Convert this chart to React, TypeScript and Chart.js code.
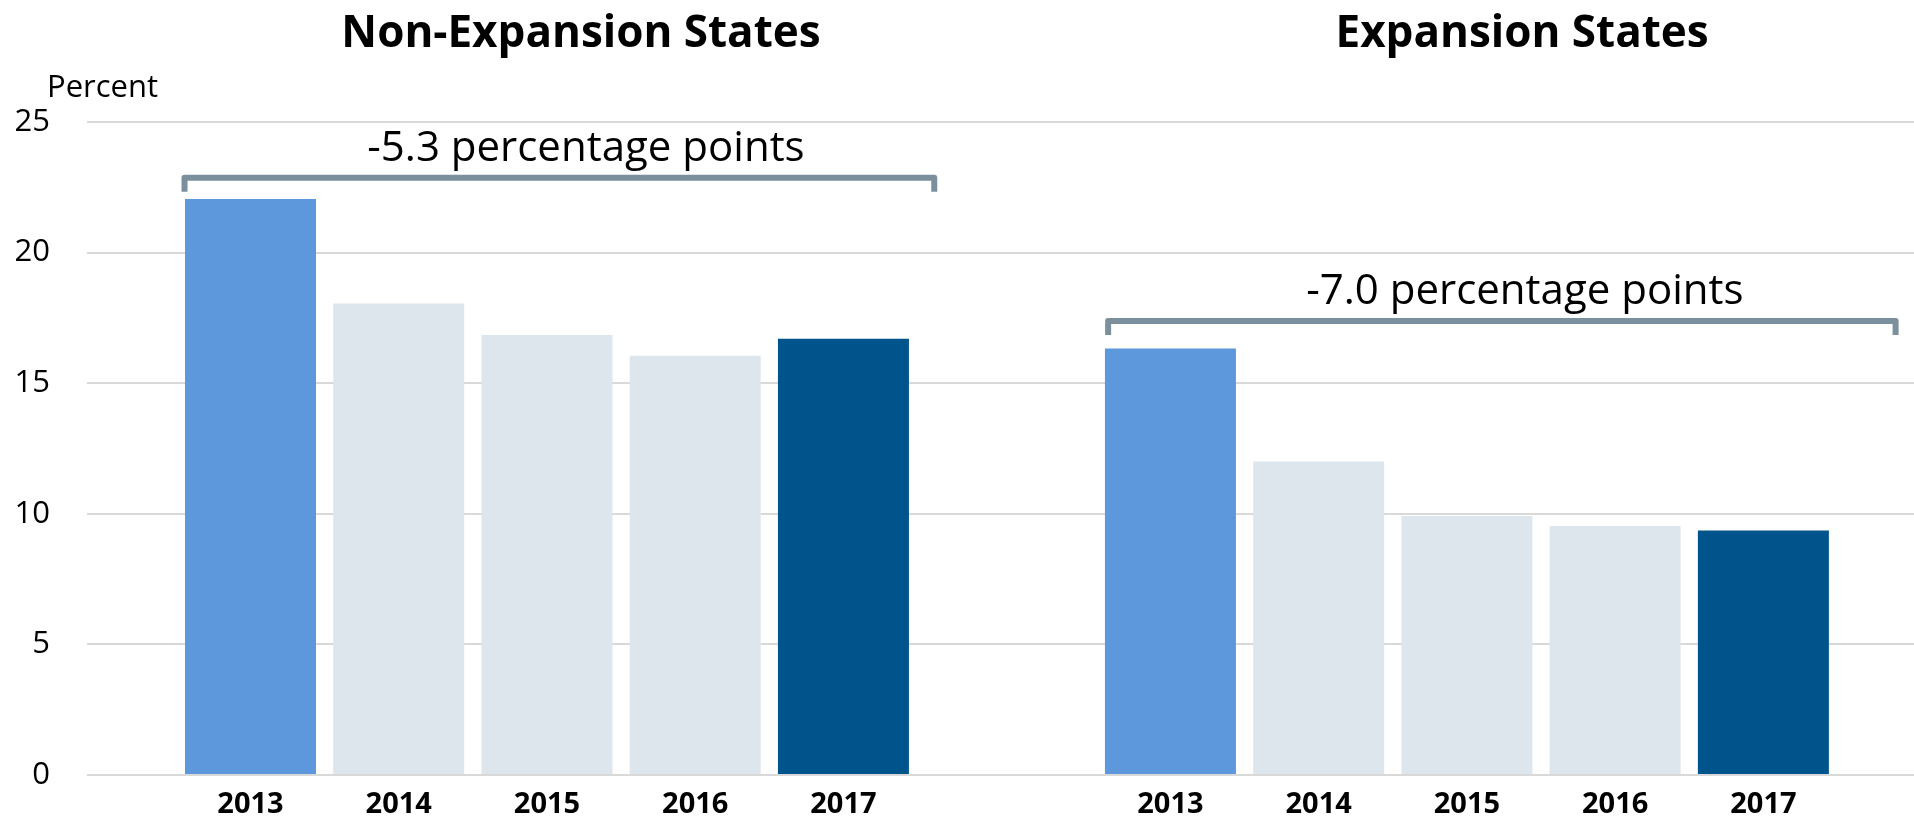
import React, { useEffect, useRef } from 'react';
import { Chart, registerables } from 'chart.js';

Chart.register(...registerables);

const years = ['2013', '2014', '2015', '2016', '2017'];
const groups = ['Non-Expansion States', 'Expansion States'];
const nonExpansion = [22.05, 18.05, 16.85, 16.05, 16.7];
const expansion = [16.33, 12.0, 9.92, 9.53, 9.36];
const changeLabels = ['-5.3 percentage points', '-7.0 percentage points'];
const yTicks = [0, 5, 10, 15, 20, 25];
const barColors = ['#5d97dc', '#dee6ed', '#dee6ed', '#dee6ed', '#00548c'];

// annotation placement, in data units of the chart's scales
const bracketLevel = [22.87, 17.38];
const bracketStart = [-0.394, 0.61];
const bracketEnd = [0.421, 1.466];
const annotationX = [0.0424, 1.063];
const titleX = [0.037, 1.06];

const FONT = '"Open Sans", "Noto Sans", sans-serif';

const overlayPlugin = {
  id: 'overlay',
  afterDraw(chart: any) {
    const { ctx } = chart;
    const x = chart.scales.x;
    const y = chart.scales.y;
    ctx.save();
    ctx.fillStyle = '#000';
    ctx.textBaseline = 'alphabetic';

    // group titles
    ctx.font = `bold 44px ${FONT}`;
    ctx.textAlign = 'center';
    groups.forEach((g, i) => {
      ctx.fillText(g, x.getPixelForValue(titleX[i]), 47);
    });

    // unit label
    ctx.font = `31px ${FONT}`;
    ctx.textAlign = 'left';
    ctx.fillText('Percent', 47, 97);

    // brackets + change labels
    groups.forEach((_, i) => {
      const yl = y.getPixelForValue(bracketLevel[i]);
      const x0 = x.getPixelForValue(bracketStart[i]);
      const x1 = x.getPixelForValue(bracketEnd[i]);
      ctx.beginPath();
      ctx.moveTo(x0, yl + 14);
      ctx.lineTo(x0, yl);
      ctx.lineTo(x1, yl);
      ctx.lineTo(x1, yl + 14);
      ctx.lineWidth = 6;
      ctx.lineJoin = 'round';
      ctx.lineCap = 'butt';
      ctx.strokeStyle = '#7b909c';
      ctx.stroke();

      ctx.font = `42px ${FONT}`;
      ctx.textAlign = 'center';
      ctx.fillStyle = '#000';
      ctx.fillText(changeLabels[i], x.getPixelForValue(annotationX[i]), yl - 17);
    });

    // year labels under each bar
    ctx.font = `bold 29px ${FONT}`;
    ctx.textAlign = 'center';
    chart.data.datasets.forEach((ds: any, di: number) => {
      chart.getDatasetMeta(di).data.forEach((bar: any) => {
        ctx.fillText(ds.label, bar.x, 813);
      });
    });
    ctx.restore();
  },
};

export default function App() {
  const ref = useRef<HTMLCanvasElement>(null);

  useEffect(() => {
    document.body.style.margin = '0';
    document.body.style.overflow = 'hidden';
    if (!ref.current) return;

    const datasets = years.map((yr, i) => ({
      label: yr,
      data: [
        { x: 0, y: nonExpansion[i] },
        { x: 1, y: expansion[i] },
      ],
      backgroundColor: barColors[i],
      borderWidth: 0,
      categoryPercentage: 0.8057,
      barPercentage: 0.8837,
    }));

    const chart = new Chart(ref.current, {
      type: 'bar',
      data: { datasets },
      options: {
        responsive: false,
        animation: false,
        layout: { padding: { top: 122, bottom: 42, left: 0, right: 0 } },
        plugins: {
          legend: { display: false },
          tooltip: { enabled: false },
          title: { display: false },
        },
        scales: {
          x: {
            type: 'linear',
            display: false,
            offset: false,
            grid: { offset: false },
            min: -0.5,
            max: 1.486,
            afterBuildTicks: (scale: any) => {
              scale.ticks = [{ value: 0 }, { value: 1 }];
            },
          },
          y: {
            min: 0,
            max: 25,
            afterBuildTicks: (scale: any) => {
              scale.ticks = yTicks.map((v) => ({ value: v }));
            },
            afterFit: (scale: any) => {
              scale.width = 87;
              scale.paddingTop = 0;
              scale.paddingBottom = 0;
            },
            border: { display: false },
            grid: {
              color: '#d9d9d9',
              lineWidth: 2,
              drawTicks: false,
            },
            ticks: {
              color: '#000',
              padding: 37,
              font: { family: FONT, size: 31 },
            },
          },
        },
      },
      plugins: [overlayPlugin],
    });

    return () => chart.destroy();
  }, []);

  return (
    <div style={{ width: 1914, height: 817, overflow: 'hidden', background: '#fff' }}>
      <canvas ref={ref} width={1914} height={817} style={{ display: 'block' }} />
    </div>
  );
}
